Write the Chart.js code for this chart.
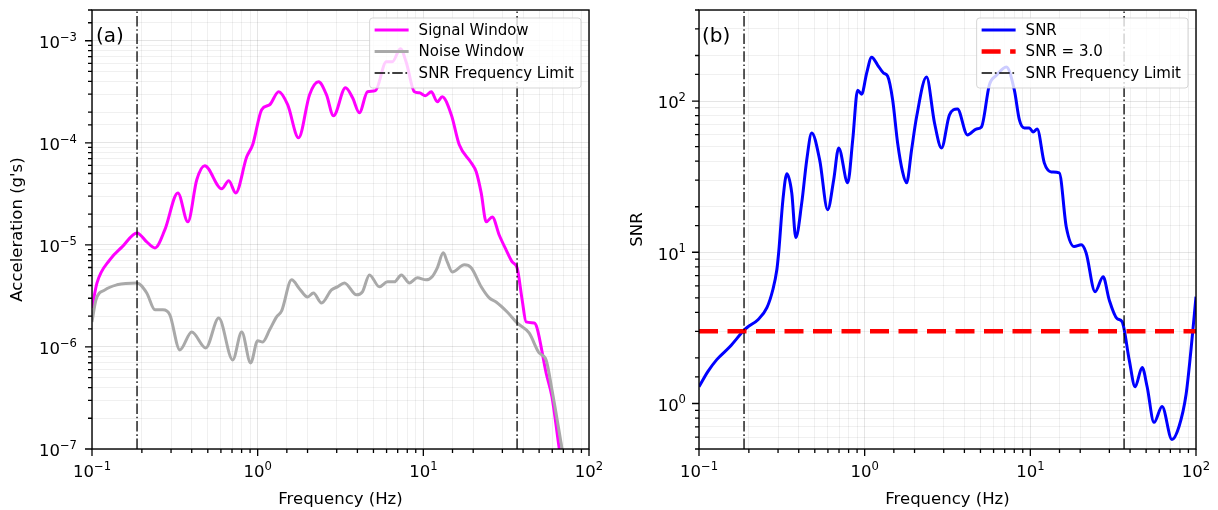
<!DOCTYPE html>
<html>
<head>
<meta charset="utf-8">
<script src="https://cdn.jsdelivr.net/npm/chart.js@4.4.1/dist/chart.umd.min.js"></script>
<style>
  html, body { margin: 0; padding: 0; background: #fff; }
  #wrap { position: relative; width: 1218px; height: 510px; }
  canvas { position: absolute; top: 0; }
  #panelA { left: 0; }
  #panelB { left: 609px; }
</style>
</head>
<body>
<div id="wrap">
  <canvas id="panelA" width="609" height="510"></canvas>
  <canvas id="panelB" width="609" height="510"></canvas>
</div>
<script>
// Fourier amplitude spectra of the signal and noise windows (Hz, g)
const freqSignal = [0.1, 0.1072, 0.128, 0.152, 0.187, 0.214, 0.240, 0.275, 0.330, 0.379, 0.429, 0.479,
  0.607, 0.669, 0.737, 0.859, 0.933, 1.057, 1.181, 1.339, 1.517, 1.766, 2.057, 2.33, 2.60, 2.87,
  3.39, 3.74, 4.11, 4.60, 5.14, 5.98, 6.50, 7.27, 7.90, 8.83, 9.46, 10.28, 11.17, 12.14, 13.0,
  14.75, 16.48, 19.45, 20.85, 22.35, 23.97, 26.06, 28.7, 31.6, 34.4, 36.8, 39.5, 41.7, 46.7, 48.6,
  55.1, 59.8, 65.9, 67.8];
const accSignal = [2.41e-6, 4.24e-6, 7.13e-6, 9.55e-6, 1.31e-5, 1.07e-5, 9.34e-6, 1.40e-5, 3.23e-5, 1.68e-5, 4.34e-5, 5.95e-5,
  3.54e-5, 4.24e-5, 3.23e-5, 7.29e-5, 9.55e-5, 2.11e-4, 2.36e-4, 3.16e-4, 2.36e-4, 1.12e-4, 2.96e-4, 3.96e-4, 2.96e-4, 1.84e-4,
  3.46e-4, 2.76e-4, 1.97e-4, 3.16e-4, 3.24e-4, 6.22e-4, 6.22e-4, 8.35e-4, 6.08e-4, 3.16e-4, 3.09e-4, 2.89e-4, 3.16e-4, 2.52e-4, 2.82e-4,
  1.88e-4, 9.55e-5, 6.37e-5, 5.2e-5, 3.23e-5, 1.68e-5, 1.88e-5, 1.25e-5, 8.93e-6, 6.8e-6, 5.96e-6, 2.89e-6, 1.76e-6, 1.72e-6, 1.53e-6,
  5.56e-7, 3.24e-7, 1.05e-7, 7.8e-8];

const freqNoise = [0.1, 0.1057, 0.1197, 0.1415, 0.187, 0.214, 0.240, 0.268, 0.295, 0.339, 0.400, 0.486,
  0.582, 0.707, 0.801, 0.907, 1.0, 1.072, 1.181, 1.301, 1.395, 1.603, 1.791, 2.0, 2.17, 2.43, 2.79,
  3.03, 3.34, 3.95, 4.29, 4.73, 5.43, 6.07, 6.69, 7.37, 8.24, 9.2, 10.4, 11.3, 12.14, 13.2, 13.95,
  14.95, 17.7, 19.45, 22.35, 25.0, 27.5, 32.1, 36.8, 43.5, 50.0, 55.1, 59.8, 67.8, 69.7];
const accNoise = [1.76e-6, 2.89e-6, 3.62e-6, 4.06e-6, 4.24e-6, 3.38e-6, 2.31e-6, 2.31e-6, 2.06e-6, 9.35e-7, 1.40e-6, 9.78e-7,
  1.92e-6, 7.46e-7, 1.40e-6, 6.97e-7, 1.15e-6, 1.12e-6, 1.47e-6, 1.97e-6, 2.25e-6, 4.54e-6, 3.7e-6, 3.09e-6, 3.38e-6, 2.70e-6, 3.62e-6,
  3.88e-6, 4.24e-6, 3.24e-6, 3.47e-6, 5.08e-6, 3.88e-6, 4.34e-6, 4.34e-6, 5.08e-6, 4.24e-6, 4.75e-6, 4.54e-6, 4.87e-6, 5.95e-6, 8.35e-6, 6.8e-6,
  5.43e-6, 6.37e-6, 5.96e-6, 3.88e-6, 3.02e-6, 2.76e-6, 2.2e-6, 1.72e-6, 1.37e-6, 8.73e-7, 7.46e-7, 3.79e-7, 1.15e-7, 8.7e-8];

// Signal-to-noise ratio
const freqSnr = [0.1, 0.1133, 0.128, 0.154, 0.184, 0.195, 0.227, 0.257, 0.279, 0.295, 0.303, 0.321,
  0.339, 0.363, 0.384, 0.417, 0.447, 0.479, 0.535, 0.598, 0.650, 0.697, 0.790, 0.847, 0.907, 0.959,
  1.028, 1.102, 1.197, 1.301, 1.376, 1.475, 1.581, 1.694, 1.791, 1.919, 2.057, 2.362, 2.64, 2.91,
  3.25, 3.63, 4.17, 4.73, 5.07, 5.66, 6.24, 7.17, 8.01, 8.59, 9.2, 9.86, 10.4, 11.0, 12.14, 13.39,
  14.95, 16.48, 18.4, 20.3, 21.7, 24.6, 27.5, 29.9, 33.4, 35.8, 39.5, 42.9, 47.3, 50.7, 55.8, 62.4,
  71.6, 79.0, 87.1, 93.3, 100];
const snrValues = [1.29, 1.63, 1.95, 2.38, 2.99, 3.18, 3.58, 4.3, 5.65, 7.66, 10.1, 22.2,
  33.0, 24.7, 12.5, 21.2, 40.8, 61.5, 40.8, 19.1, 30.1, 49.0, 28.8, 55.3, 118, 111,
  153, 195, 173, 153, 146, 102, 52.8, 34.0, 28.8, 47.5, 78.4, 144, 71.6, 49,
  80.9, 88.5, 59.7, 65.3, 67.4, 128, 148, 168, 118, 75, 66.4, 66.4, 62.4, 65.3, 39.0, 34,
  33.5, 14.7, 10.9, 11.2, 9.93, 5.48, 6.89, 4.86, 3.64, 3.48, 1.95, 1.29, 1.73, 1.29, 0.75, 0.955,
  0.578, 0.705, 1.146, 2.27, 5.08];

const snrThreshold = 3.0;
const freqLimits = [0.187, 36.8];   // usable band from the SNR test
const freqRange = [0.1, 100];
const accRange = [1e-7, 2e-3];
const snrRange = [0.5, 400];

const FONT = 'DejaVu Sans';
const TICK_PX = 16.5, EXP_PX = 11.6;
function isDecade(v) {
  const l = Math.log10(v);
  return Math.abs(l - Math.round(l)) < 1e-6;
}
const pts = (xs, ys) => xs.map((x, i) => ({ x, y: ys[i] }));
const DASHDOT = [10.5, 2.7, 1.7, 2.7];

// "10" with a raised exponent, as a power-of-ten tick label
function drawPow(ctx, v, x, baseline, align) {
  const e = Math.round(Math.log10(v));
  const exp = (e < 0 ? '\u2212' : '') + Math.abs(e);
  ctx.font = `${TICK_PX}px "${FONT}"`;
  const w1 = ctx.measureText('10').width;
  ctx.font = `${EXP_PX}px "${FONT}"`;
  const w2 = ctx.measureText(exp).width;
  const x0 = align === 'center' ? x - (w1 + w2) / 2 : x - (w1 + w2);
  ctx.textAlign = 'left';
  ctx.textBaseline = 'alphabetic';
  ctx.font = `${TICK_PX}px "${FONT}"`;
  ctx.fillText('10', x0, baseline);
  ctx.font = `${EXP_PX}px "${FONT}"`;
  ctx.fillText(exp, x0 + w1, baseline - 7.5);
}

// Frame, tick marks and labels, panel tag and legend box
const decor = {
  id: 'decor',
  afterDatasetsDraw(chart, args, opts) {
    const { ctx, chartArea: a } = chart;
    ctx.save();
    ctx.strokeStyle = '#000';
    ctx.fillStyle = '#000';
    ctx.lineWidth = 1.3;
    const xs = chart.scales.x, ys = chart.scales.y;
    ctx.beginPath();
    xs.ticks.forEach(t => {
      const p = xs.getPixelForValue(t.value);
      const len = isDecade(t.value) ? 7 : 4;
      ctx.moveTo(p, a.bottom); ctx.lineTo(p, a.bottom + len);
    });
    ys.ticks.forEach(t => {
      const p = ys.getPixelForValue(t.value);
      const len = isDecade(t.value) ? 7 : 4;
      ctx.moveTo(a.left, p); ctx.lineTo(a.left - len, p);
    });
    ctx.stroke();
    xs.ticks.filter(t => isDecade(t.value)).forEach(t => {
      drawPow(ctx, t.value, xs.getPixelForValue(t.value), a.bottom + 28, 'center');
    });
    ys.ticks.filter(t => isDecade(t.value)).forEach(t => {
      drawPow(ctx, t.value, a.left - opts.yLabelGap, ys.getPixelForValue(t.value) + 7.3, 'right');
    });
    ctx.lineWidth = 1.4;
    ctx.strokeRect(a.left, a.top, a.right - a.left, a.bottom - a.top);

    ctx.font = `20px "${FONT}"`;
    ctx.textAlign = 'left';
    ctx.textBaseline = 'alphabetic';
    ctx.fillText(opts.tag, a.left + opts.tagDx, a.top + 32);

    // legend
    const seen = new Set();
    const items = [];
    chart.data.datasets.forEach(d => {
      if (seen.has(d.label)) return;
      seen.add(d.label);
      items.push(d);
    });
    ctx.font = `15px "${FONT}"`;
    const textW = Math.max(...items.map(d => ctx.measureText(d.label).width));
    const boxW = 5 + 34 + 10 + textW + 7;
    const boxH = 70;
    const bx = a.right - 8 - boxW, by = a.top + 8;
    ctx.beginPath();
    ctx.roundRect(bx, by, boxW, boxH, 3);
    ctx.fillStyle = 'rgba(255,255,255,0.8)';
    ctx.fill();
    ctx.strokeStyle = 'rgba(204,204,204,0.8)';
    ctx.lineWidth = 1;
    ctx.stroke();
    items.forEach((d, i) => {
      const cy = by + 12 + i * 21.5;
      ctx.save();
      ctx.strokeStyle = d.borderColor;
      ctx.lineWidth = d.borderWidth;
      ctx.setLineDash(d.borderDash || []);
      ctx.beginPath();
      ctx.moveTo(bx + 5, cy); ctx.lineTo(bx + 39, cy);
      ctx.stroke();
      ctx.restore();
      ctx.fillStyle = '#000';
      ctx.textBaseline = 'middle';
      ctx.fillText(d.label, bx + 49, cy + 1);
    });
    ctx.restore();
  }
};

const gridColor = c => (c.tick && isDecade(c.tick.value)) ? 'rgba(0,0,0,0.10)' : 'rgba(0,0,0,0.06)';
function xAxis() {
  return {
    type: 'logarithmic', position: 'bottom', min: freqRange[0], max: freqRange[1],
    afterFit(s) { s.height = 61; },
    border: { display: false },
    grid: { drawTicks: false, lineWidth: 1, color: gridColor },
    ticks: { display: false, autoSkip: false },
    title: { display: true, text: 'Frequency (Hz)', color: '#000',
      font: { family: FONT, size: 16.5, lineHeight: 1.2 }, padding: { top: 0, bottom: 0 } }
  };
}
function yAxis(range, width, title, titlePad) {
  return {
    type: 'logarithmic', position: 'left', min: range[0], max: range[1],
    afterFit(s) { s.width = width; },
    border: { display: false },
    grid: { drawTicks: false, lineWidth: 1, color: gridColor },
    ticks: { display: false, autoSkip: false },
    title: { display: true, text: title, color: '#000',
      font: { family: FONT, size: 16.5, lineHeight: 1.2 }, padding: { top: titlePad, bottom: 0 } }
  };
}
const lineBase = { pointRadius: 0, fill: false, cubicInterpolationMode: 'monotone', clip: 0 };
const limitSets = (yr) => freqLimits.map(f => ({
  ...lineBase, label: 'SNR Frequency Limit', data: [{ x: f, y: yr[0] }, { x: f, y: yr[1] }],
  borderColor: '#000', borderWidth: 1.3, borderDash: DASHDOT, order: 1
}));
const common = { responsive: false, animation: false, devicePixelRatio: 1, events: [] };

new Chart(document.getElementById('panelA'), {
  type: 'line',
  data: {
    datasets: [
      { ...lineBase, label: 'Signal Window', data: pts(freqSignal, accSignal), borderColor: '#ff00ff', borderWidth: 3, order: 3 },
      { ...lineBase, label: 'Noise Window', data: pts(freqNoise, accNoise), borderColor: '#a9a9a9', borderWidth: 3, order: 2 },
      ...limitSets(accRange)
    ]
  },
  options: {
    ...common,
    layout: { padding: { left: 0, top: 10, right: 20, bottom: 0 } },
    scales: { x: xAxis(), y: yAxis(accRange, 92, "Acceleration (g's)", 7.4) },
    plugins: { legend: { display: false }, tooltip: { enabled: false },
      decor: { tag: '(a)', tagDx: 4, yLabelGap: 15 } }
  },
  plugins: [decor]
});

new Chart(document.getElementById('panelB'), {
  type: 'line',
  data: {
    datasets: [
      { ...lineBase, label: 'SNR', data: pts(freqSnr, snrValues), borderColor: '#0000ff', borderWidth: 3, order: 3 },
      { ...lineBase, label: 'SNR = ' + snrThreshold.toFixed(1), data: [{ x: freqRange[0], y: snrThreshold }, { x: freqRange[1], y: snrThreshold }],
        borderColor: '#ff0000', borderWidth: 4.5, borderDash: [19, 9.5], order: 2 },
      ...limitSets(snrRange)
    ]
  },
  options: {
    ...common,
    layout: { padding: { left: 0, top: 10, right: 22, bottom: 0 } },
    scales: { x: xAxis(), y: yAxis(snrRange, 90, 'SNR', 18.4) },
    plugins: { legend: { display: false }, tooltip: { enabled: false },
      decor: { tag: '(b)', tagDx: 3, yLabelGap: 13 } }
  },
  plugins: [decor]
});
</script>
</body>
</html>
